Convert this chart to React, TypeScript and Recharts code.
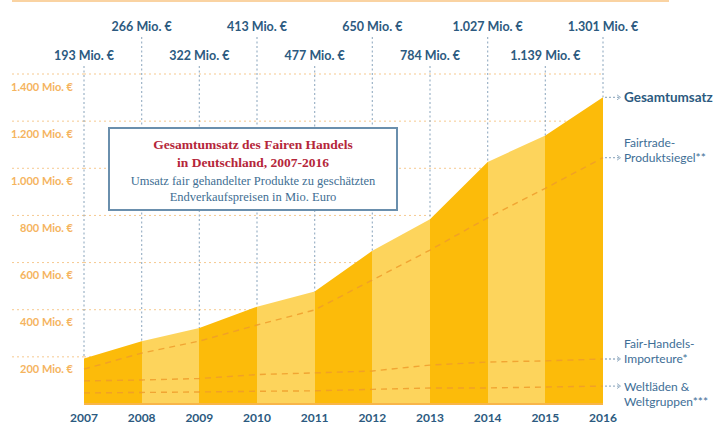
import { ComposedChart, Area, Line, XAxis, YAxis, CartesianGrid } from 'recharts';

const years = [2007, 2008, 2009, 2010, 2011, 2012, 2013, 2014, 2015, 2016];
const gesamtumsatz = [193, 266, 322, 413, 477, 650, 784, 1027, 1139, 1301];
const fairtrade = [148, 216, 267, 335, 399, 526, 653, 790, 915, 1045];
const importeure = [98, 102, 108, 125, 132, 140, 165, 178, 183, 191];
const weltlaeden = [47, 49, 51, 54, 56, 62, 68, 68, 72, 76];
const yTicks = [200, 400, 600, 800, 1000, 1200, 1400];

const endLabels = {
  total: ['Gesamtumsatz'],
  fairtrade: ['Fairtrade-', 'Produktsiegel**'],
  importeure: ['Fair-Handels-', 'Importeure*'],
  weltlaeden: ['Weltläden &', 'Weltgruppen***'],
};

const data = years.map((year, i) => ({
  year,
  total: gesamtumsatz[i],
  fairtrade: fairtrade[i],
  importeure: importeure[i],
  weltlaeden: weltlaeden[i],
}));

const DARK = '#FCBB0A';
const LIGHT = '#FDD45C';
const BLUE = '#2C5A80';
const BLUE_LIGHT = '#3E6E96';
const CONNECT = '#9CB3C7';
const SANS = 'Lato, "Open Sans", sans-serif';

const fmt = (n: number) =>
  n >= 1000 ? `${Math.floor(n / 1000)}.${String(n % 1000).padStart(3, '0')}` : `${n}`;

const last = years.length - 1;

const YTick = (props: any) => {
  const { x, y, payload } = props;
  return (
    <text x={x + 61} y={y + 12} textAnchor="end" dominantBaseline="central"
      fill="#F5B45E" fontFamily={SANS} fontWeight={700} fontSize={11}>
      {fmt(payload.value)} Mio. €
    </text>
  );
};

const XTick = (props: any) => {
  const { x, y, payload } = props;
  return (
    <text x={x} y={y + 13} textAnchor="middle" dominantBaseline="central"
      fill={BLUE} fontFamily={SANS} fontWeight={700} fontSize={12}>
      {payload.value}
    </text>
  );
};

// value labels above the chart, alternating rows, with dotted drop lines
const TopLabel = (props: any) => {
  const { cx, cy, index, payload } = props;
  const rowY = index % 2 === 0 ? 55 : 26;
  return (
    <g key={`top-${index}`}>
      <line x1={cx} x2={cx} y1={rowY + 11} y2={cy} stroke={CONNECT} strokeWidth={1.2} strokeDasharray="2 2.5" />
      <text x={cx} y={rowY} textAnchor="middle" dominantBaseline="central"
        fill={BLUE} fontFamily={SANS} fontWeight={700} fontSize={12.5}>
        {fmt(payload.total)} Mio. €
      </text>
    </g>
  );
};

const makeEndLabel = (key: keyof typeof endLabels, bold: boolean, firstAtLine: boolean) => (props: any) => {
  const { cx, cy, index } = props;
  if (index !== last) return <g key={`end-${key}-${index}`} />;
  const lines = endLabels[key];
  const startY = firstAtLine ? cy : cy - (lines.length - 1) * 15;
  return (
    <g key={`end-${key}-${index}`}>
      <line x1={cx + 2} x2={cx + 17} y1={cy} y2={cy} stroke={CONNECT} strokeWidth={1.3} strokeDasharray="2 2" />
      <path d={`M${cx + 14},${cy - 2.5} L${cx + 17.5},${cy} L${cx + 14},${cy + 2.5}`} fill="none" stroke={CONNECT} strokeWidth={1} />
      {lines.map((t, i) => (
        <text key={i} x={cx + 21} y={startY + i * 15} dominantBaseline="central"
          fill={bold ? BLUE : BLUE_LIGHT} fontFamily={SANS}
          fontWeight={bold ? 700 : 400} fontSize={bold ? 13.5 : 12}>
          {t}
        </text>
      ))}
    </g>
  );
};

const dashed = {
  stroke: '#EE9C2C',
  strokeOpacity: 0.85,
  strokeWidth: 1.4,
  strokeDasharray: '6 5',
  isAnimationActive: false,
  activeDot: false as const,
  type: 'linear' as const,
};

export default function App() {
  return (
    <div style={{ position: 'absolute', left: 0, top: 0, width: 716, height: 423, background: '#fff', overflow: 'hidden' }}>
      <div style={{ position: 'absolute', left: 12, top: 0, width: 657, height: 2, background: '#FAD3A2' }} />
      <ComposedChart width={716} height={423} data={data} margin={{ top: 74, right: 113, bottom: 0, left: 12 }}>
        <defs>
          <linearGradient id="stripes" x1="0" y1="0" x2="1" y2="0">
            {years.slice(0, -1).flatMap((y, i) => {
              const c = i % 2 === 0 ? DARK : LIGHT;
              return [
                <stop key={`${y}a`} offset={i / last} stopColor={c} />,
                <stop key={`${y}b`} offset={(i + 1) / last} stopColor={c} />,
              ];
            })}
          </linearGradient>
        </defs>
        <CartesianGrid vertical={false} stroke="#F6C98F" strokeDasharray="2 3" />
        <XAxis dataKey="year" type="number" domain={[2007, 2016]} ticks={years}
          height={19} tickSize={0} tickMargin={0} tick={<XTick />}
          axisLine={{ stroke: '#F8B54A', strokeWidth: 2 }} tickLine={false} />
        <YAxis type="number" domain={[0, 1400]} ticks={yTicks} width={72}
          tickSize={72} tickMargin={0} axisLine={false} tick={<YTick />}
          tickLine={{ stroke: '#F6C98F', strokeDasharray: '2 3' }} />
        <Area dataKey="total" type="linear" fill="url(#stripes)" fillOpacity={1} stroke="none" isAnimationActive={false} activeDot={false} />
        <Line dataKey="weltlaeden" {...dashed} dot={makeEndLabel('weltlaeden', false, true)} />
        <Line dataKey="importeure" {...dashed} dot={makeEndLabel('importeure', false, false)} />
        <Line dataKey="fairtrade" {...dashed} dot={makeEndLabel('fairtrade', false, false)} />
        <Line dataKey="total" stroke="none" type="linear" isAnimationActive={false} activeDot={false} dot={TopLabel} />
        <Line dataKey="total" stroke="none" type="linear" isAnimationActive={false} activeDot={false} dot={makeEndLabel('total', true, true)} />
      </ComposedChart>
      <div style={{
        position: 'absolute', left: 108, top: 127, width: 290, height: 84, boxSizing: 'border-box',
        border: '2px solid #6A8FAD', background: '#fff', textAlign: 'center',
        fontFamily: '"Liberation Serif", "DejaVu Serif", serif', paddingTop: 7,
      }}>
        <div style={{ color: '#B5263A', fontWeight: 700, fontSize: 13.5, lineHeight: '18px' }}>
          Gesamtumsatz des Fairen Handels<br />in Deutschland, 2007-2016
        </div>
        <div style={{ color: '#3E6E93', fontSize: 12.5, lineHeight: '16px', marginTop: 1 }}>
          Umsatz fair gehandelter Produkte zu geschätzten<br />Endverkaufspreisen in Mio. Euro
        </div>
      </div>
    </div>
  );
}
